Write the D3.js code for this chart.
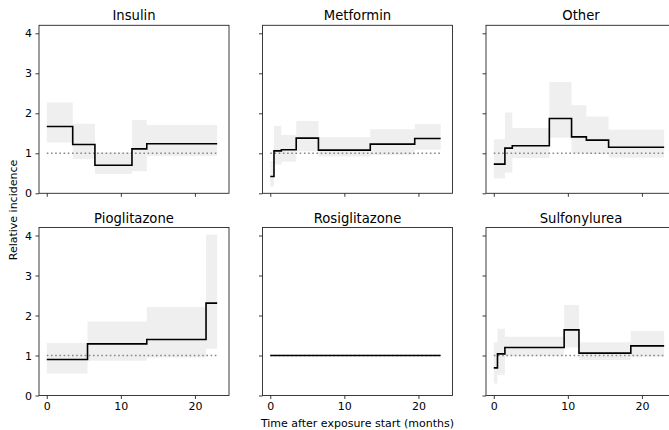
<!DOCTYPE html>
<meta charset='utf-8'>
<head>
  <title>Relative incidence by drug</title>
  <style>
    body { margin: 0; background: #fff; }
    text { font-family: 'DejaVu Sans', sans-serif; fill: #000; }
  </style>
</head>
<body>
<div id='chart'></div>
<script src='https://d3js.org/d3.v7.min.js'></script>
<script>

// step start times, estimate, lower and upper bound per interval; all end at endTime
var endTime = 23;

var insulinT  = [0, 3.5, 6.5, 11.5, 13.5],
    insulinRI = [1.67, 1.22, 0.70, 1.11, 1.24],
    insulinLo = [1.27, 0.86, 0.48, 0.55, 0.93],
    insulinHi = [2.27, 1.74, 1.02, 1.83, 1.71];

var metforminT  = [0, 0.5, 1.5, 3.5, 6.5, 13.5, 19.5],
    metforminRI = [0.42, 1.06, 1.09, 1.38, 1.08, 1.23, 1.37],
    metforminLo = [0.17, 0.72, 0.79, 1.05, 0.92, 0.96, 1.09],
    metforminHi = [0.81, 1.68, 1.46, 1.81, 1.40, 1.60, 1.73];

var otherT  = [0, 1.5, 2.5, 7.5, 10.5, 12.5, 15.5],
    otherRI = [0.73, 1.13, 1.19, 1.87, 1.41, 1.33, 1.15],
    otherLo = [0.37, 0.52, 0.88, 1.39, 1.00, 0.98, 0.89],
    otherHi = [1.35, 2.02, 1.63, 2.78, 2.20, 1.92, 1.59];

var pioglitazoneT  = [0, 5.5, 13.5, 21.5],
    pioglitazoneRI = [0.90, 1.29, 1.40, 2.31],
    pioglitazoneLo = [0.55, 0.87, 0.95, 1.17],
    pioglitazoneHi = [1.31, 1.85, 2.21, 4.02];

var rosiglitazoneT  = [0],
    rosiglitazoneRI = [1.0],
    rosiglitazoneLo = [1.0],
    rosiglitazoneHi = [1.0];

var sulfonylureaT  = [0, 0.5, 1.5, 9.5, 11.5, 18.5],
    sulfonylureaRI = [0.69, 1.04, 1.20, 1.64, 1.06, 1.24],
    sulfonylureaLo = [0.30, 0.52, 0.98, 1.20, 0.89, 0.97],
    sulfonylureaHi = [1.33, 1.67, 1.47, 2.26, 1.33, 1.61];

var drugs = ['Insulin', 'Metformin', 'Other', 'Pioglitazone', 'Rosiglitazone', 'Sulfonylurea'];
var series = [
  [insulinT, insulinRI, insulinLo, insulinHi],
  [metforminT, metforminRI, metforminLo, metforminHi],
  [otherT, otherRI, otherLo, otherHi],
  [pioglitazoneT, pioglitazoneRI, pioglitazoneLo, pioglitazoneHi],
  [rosiglitazoneT, rosiglitazoneRI, rosiglitazoneLo, rosiglitazoneHi],
  [sulfonylureaT, sulfonylureaRI, sulfonylureaLo, sulfonylureaHi]
];
var xTicks = [0, 10, 20],
    yTicks = [0, 1, 2, 3, 4];

var width = 669,
    height = 430,
    panelW = 190,
    panelH = 168,
    lefts = [39, 262.5, 486],
    tops = [25.3, 227.5];

var x = d3.scaleLinear().domain([-1.05, 24.6]).range([0, panelW]),
    y = d3.scaleLinear().domain([0, 4.2]).range([panelH, 0]);

var svg = d3.select('#chart').append('svg')
    .attr('width', width)
    .attr('height', height);

var line = d3.line()
    .x(function(d) { return x(d.t); })
    .y(function(d) { return y(d.v); })
    .curve(d3.curveStepAfter);

var area = d3.area()
    .x(function(d) { return x(d.t); })
    .y0(function(d) { return y(d.lo); })
    .y1(function(d) { return y(d.hi); })
    .curve(d3.curveStepAfter);

drugs.forEach(function(name, i) {
  var col = i % 3,
      row = Math.floor(i / 3),
      s = series[i];

  var pts = s[0].map(function(t, j) {
    return { t: t, v: s[1][j], lo: s[2][j], hi: s[3][j] };
  });
  var last = pts[pts.length - 1];
  pts.push({ t: endTime, v: last.v, lo: last.lo, hi: last.hi });

  var g = svg.append('g')
      .attr('transform', 'translate(' + lefts[col] + ',' + tops[row] + ')');

  g.append('path')
      .datum(pts)
      .attr('d', area)
      .attr('fill', '#efefef');

  g.append('line')
      .attr('x1', x(0)).attr('x2', x(endTime))
      .attr('y1', y(1)).attr('y2', y(1))
      .attr('stroke', '#888')
      .attr('stroke-width', 1.6)
      .attr('stroke-dasharray', '1.6,2.6');

  g.append('path')
      .datum(pts)
      .attr('d', line)
      .attr('fill', 'none')
      .attr('stroke', '#000')
      .attr('stroke-width', 1.6);

  var xAxis = d3.axisBottom(x).tickValues(xTicks).tickSize(3.5).tickPadding(3.5)
      .tickFormat(row === 1 ? d3.format('d') : '');
  var yAxis = d3.axisLeft(y).tickValues(yTicks).tickSize(3.5).tickPadding(3.5)
      .tickFormat(col === 0 ? d3.format('d') : '');

  var gx = g.append('g')
      .attr('transform', 'translate(0,' + panelH + ')')
      .call(xAxis);
  var gy = g.append('g').call(yAxis);

  [gx, gy].forEach(function(a) {
    a.select('.domain').remove();
    a.selectAll('line').attr('stroke', '#262626').attr('stroke-width', 0.9);
    a.selectAll('text').attr('font-size', 11).attr('font-family', 'DejaVu Sans').attr('fill', '#000');
  });

  g.append('rect')
      .attr('width', panelW)
      .attr('height', panelH)
      .attr('fill', 'none')
      .attr('stroke', '#262626')
      .attr('stroke-width', 0.9);

  g.append('text')
      .attr('x', panelW / 2)
      .attr('y', -5)
      .attr('text-anchor', 'middle')
      .attr('font-size', 13.2)
      .text(name);
});

svg.append('text')
    .attr('transform', 'translate(17,210) rotate(-90)')
    .attr('text-anchor', 'middle')
    .attr('font-size', 11)
    .text('Relative incidence');

svg.append('text')
    .attr('x', lefts[1] + panelW / 2)
    .attr('y', 427)
    .attr('text-anchor', 'middle')
    .attr('font-size', 11)
    .text('Time after exposure start (months)');

</script>
</body>
